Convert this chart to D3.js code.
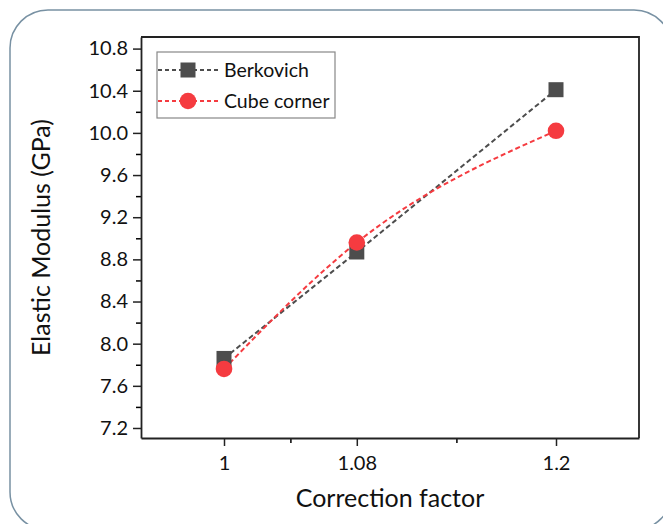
<!DOCTYPE html>
<html>
<head>
<meta charset="utf-8">
<script src="https://cdn.jsdelivr.net/npm/d3@7"></script>
<style>
  body { margin: 0; background: #fff; }
  text { font-family: "Lato", "Open Sans", sans-serif; fill: #111; }
</style>
</head>
<body>
<div id="chart"></div>
<script>
// values
var factors = [1, 1.08, 1.2];
var berkovich = [7.86, 8.87, 10.41];
var cubeCorner = [7.76, 8.96, 10.02];
var xTickValues = [1, 1.08, 1.2];
var xMinorTicks = [1.04, 1.14];
var yTickValues = [7.2, 7.6, 8.0, 8.4, 8.8, 9.2, 9.6, 10.0, 10.4, 10.8];
var yMinorTicks = [7.4, 7.8, 8.2, 8.6, 9.0, 9.4, 9.8, 10.2, 10.6];
var seriesNames = ["Berkovich", "Cube corner"];

var W = 663, H = 524;
var margin = {top: 37, right: 24, bottom: 86, left: 141},
    width = W - margin.left - margin.right,
    height = H - margin.top - margin.bottom;

var root = d3.select("#chart")
  .append("svg")
    .attr("width", W)
    .attr("height", H);

// rounded frame around the whole figure
root.append("rect")
  .attr("x", 10).attr("y", 10)
  .attr("width", 662).attr("height", 520)
  .attr("rx", 38).attr("ry", 38)
  .attr("fill", "none")
  .attr("stroke", "#7891a3")
  .attr("stroke-width", 1.5);

var svg = root.append("g")
  .attr("transform", "translate(" + margin.left + "," + margin.top + ")");

var x = d3.scaleLinear().domain([0.95, 1.25]).range([0, width]);
var y = d3.scaleLinear().domain([7.105, 10.91]).range([height, 0]);

// minor ticks
svg.append("g")
  .attr("transform", "translate(0," + height + ")")
  .call(d3.axisBottom(x).tickValues(xMinorTicks).tickSize(5).tickFormat(""))
  .call(g => g.select(".domain").remove())
  .selectAll("line").attr("stroke-width", 1.5);
svg.append("g")
  .call(d3.axisLeft(y).tickValues(yMinorTicks).tickSize(5).tickFormat(""))
  .call(g => g.select(".domain").remove())
  .selectAll("line").attr("stroke-width", 1.5);

// major axes
var xAxis = svg.append("g")
  .attr("transform", "translate(0," + height + ")")
  .call(d3.axisBottom(x).tickValues(xTickValues).tickSize(8).tickSizeOuter(0).tickFormat(d3.format("")));
xAxis.selectAll("text").attr("font-size", 20).attr("dy", "1.05em");

var yAxis = svg.append("g")
  .call(d3.axisLeft(y).tickValues(yTickValues).tickSize(8).tickSizeOuter(0).tickFormat(d3.format(".1f")));
yAxis.selectAll("text").attr("font-size", 20).attr("dx", "-0.1em");

[xAxis, yAxis].forEach(function(a) {
  a.selectAll("line").attr("stroke-width", 1.5).attr("stroke", "#222");
  a.select(".domain").attr("stroke-width", 1.8).attr("stroke", "#222");
});

// top and right frame
svg.append("path")
  .attr("d", "M0,0H" + width + "V" + height)
  .attr("fill", "none")
  .attr("stroke", "#222")
  .attr("stroke-width", 1.8);

// axis titles
svg.append("text")
  .attr("x", x(1.1))
  .attr("y", height + 69)
  .attr("text-anchor", "middle")
  .attr("font-size", 25)
  .text("Correction factor");
svg.append("text")
  .attr("transform", "translate(" + (-91) + "," + (height / 2) + ")rotate(-90)")
  .attr("text-anchor", "middle")
  .attr("font-size", 25)
  .text("Elastic Modulus (GPa)");

var blackColor = "#4d4d4d", redColor = "#f53b40";

// Berkovich: straight dashed segments
var lineB = d3.line()
  .x(function(d, i) { return x(factors[i]); })
  .y(function(d) { return y(d); });
svg.append("path")
  .datum(berkovich)
  .attr("d", lineB)
  .attr("fill", "none")
  .attr("stroke", blackColor)
  .attr("stroke-width", 2)
  .attr("stroke-dasharray", "5,3");

// Cube corner: smoothed dashed line
var lineC = d3.line()
  .curve(d3.curveMonotoneX)
  .x(function(d, i) { return x(factors[i]); })
  .y(function(d) { return y(d); });
svg.append("path")
  .datum(cubeCorner)
  .attr("d", lineC)
  .attr("fill", "none")
  .attr("stroke", redColor)
  .attr("stroke-width", 2)
  .attr("stroke-dasharray", "5,3");

var sq = 15;
svg.selectAll(".sq")
  .data(berkovich)
  .enter()
  .append("rect")
    .attr("x", function(d, i) { return x(factors[i]) - sq / 2; })
    .attr("y", function(d) { return y(d) - sq / 2; })
    .attr("width", sq)
    .attr("height", sq)
    .attr("fill", blackColor);

svg.selectAll(".dot")
  .data(cubeCorner)
  .enter()
  .append("circle")
    .attr("cx", function(d, i) { return x(factors[i]); })
    .attr("cy", function(d) { return y(d); })
    .attr("r", 8.3)
    .attr("fill", redColor);

// legend
var legend = svg.append("g").attr("transform", "translate(16,15)");
legend.append("rect")
  .attr("width", 178)
  .attr("height", 66)
  .attr("fill", "#fff")
  .attr("stroke", "#888")
  .attr("stroke-width", 1.2);

var colors = [blackColor, redColor];
seriesNames.forEach(function(name, i) {
  var cy = 18 + i * 31;
  legend.append("line")
    .attr("x1", 1).attr("x2", 61)
    .attr("y1", cy).attr("y2", cy)
    .attr("stroke", colors[i])
    .attr("stroke-width", 2)
    .attr("stroke-dasharray", "4,3");
  if (i === 0) {
    legend.append("rect")
      .attr("x", 31 - sq / 2).attr("y", cy - sq / 2)
      .attr("width", sq).attr("height", sq)
      .attr("fill", colors[i]);
  } else {
    legend.append("circle")
      .attr("cx", 31).attr("cy", cy).attr("r", 8.3)
      .attr("fill", colors[i]);
  }
  legend.append("text")
    .attr("x", 67)
    .attr("y", cy)
    .attr("dy", "0.35em")
    .attr("font-size", 19.5)
    .text(name);
});
</script>
</body>
</html>
